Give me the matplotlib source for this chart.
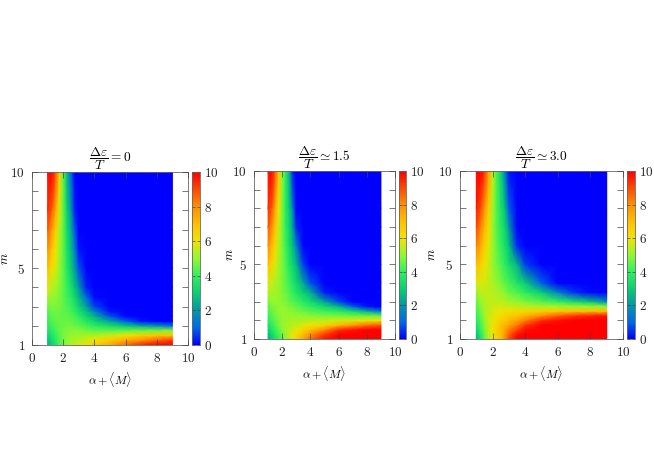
import numpy as np
import matplotlib
matplotlib.use('Agg')
from matplotlib import pyplot as plt
from matplotlib.colors import LinearSegmentedColormap

plt.rcParams['font.family'] = ['cmr10', 'DejaVu Sans']
plt.rcParams['mathtext.fontset'] = 'cm'
plt.rcParams['axes.formatter.use_mathtext'] = True

alpha = [1, 1.25, 1.5, 1.75, 2, 2.25, 2.5, 2.75, 3, 3.5, 4, 5, 6, 7, 8, 9]
m = [1, 1.25, 1.5, 1.75, 2, 2.25, 2.5, 2.75, 3, 3.5, 4, 5, 6, 7, 8, 10]

# values, one row per m
panel_a = [
    [2.5, 3, 3.5, 4.2, 4.7, 5, 5.2, 5.4, 5.6, 6.1, 6.6, 7.5, 8.5, 9.5, 10, 10],
    [2.8, 3.3, 3.8, 4.3, 4.7, 5, 5.2, 5.3, 5.4, 5.7, 6, 6.7, 7.4, 8, 8.6, 9.2],
    [3.2, 3.6, 4, 4.4, 4.7, 4.9, 5, 5.1, 5.1, 5.2, 5.3, 5.6, 6, 6.5, 6.8, 7],
    [3.5, 3.9, 4.2, 4.5, 4.7, 4.8, 4.9, 4.9, 4.9, 4.7, 4.6, 4.5, 4.6, 4.7, 4.8, 5],
    [3.8, 4.1, 4.4, 4.5, 4.6, 4.7, 4.7, 4.6, 4.5, 4.2, 3.9, 3.4, 2.9, 2.4, 2, 1.2],
    [4, 4.3, 4.5, 4.6, 4.6, 4.6, 4.5, 4.4, 4.2, 3.7, 3.2, 2.2, 0.9, 0.2, 0, 0],
    [4.2, 4.5, 4.6, 4.6, 4.5, 4.5, 4.4, 4.2, 3.9, 3.2, 2.5, 0.8, 0.1, 0, 0, 0],
    [4.4, 4.6, 4.7, 4.6, 4.5, 4.4, 4.2, 3.9, 3.5, 2.7, 1.6, 0.2, 0, 0, 0, 0],
    [4.6, 4.8, 4.8, 4.7, 4.5, 4.3, 4.1, 3.7, 3.2, 2.1, 0.7, 0, 0, 0, 0, 0],
    [5.2, 5.1, 5, 4.8, 4.5, 4.1, 3.8, 3.2, 2.6, 1, 0.1, 0, 0, 0, 0, 0],
    [5.8, 5.4, 5.2, 4.9, 4.5, 4, 3.5, 2.8, 2, 0.3, 0, 0, 0, 0, 0, 0],
    [7, 6.2, 5.8, 5, 4.5, 3.7, 3, 2, 0.8, 0, 0, 0, 0, 0, 0, 0],
    [8, 7, 6, 5.2, 4.5, 3.5, 2.7, 1.4, 0.2, 0, 0, 0, 0, 0, 0, 0],
    [8.8, 7.8, 6.6, 5.4, 4.5, 3.3, 2.4, 0.8, 0, 0, 0, 0, 0, 0, 0, 0],
    [9.4, 8.8, 7.5, 5.8, 4.5, 3.1, 2, 0.3, 0, 0, 0, 0, 0, 0, 0, 0],
    [9.8, 10, 9, 6.5, 4.5, 2.5, 1, 0, 0, 0, 0, 0, 0, 0, 0, 0],
]
panel_b = [
    [2.5, 3, 3.5, 4, 4.5, 5, 5.5, 6, 6.5, 7.5, 8.5, 9.7, 10, 10, 10, 10],
    [2.8, 3.2, 3.8, 4.2, 4.7, 5.1, 5.5, 5.9, 6.2, 7.1, 7.9, 9.2, 10, 10, 10, 10],
    [3.1, 3.6, 4, 4.5, 4.9, 5.2, 5.4, 5.7, 5.9, 6.4, 7, 8, 9.3, 9.7, 10, 10],
    [3.5, 3.9, 4.3, 4.7, 5, 5.2, 5.3, 5.4, 5.5, 5.8, 6, 6.4, 7.1, 7.8, 8.4, 8.8],
    [3.8, 4.2, 4.5, 4.8, 5, 5.1, 5.2, 5.3, 5.3, 5.3, 5.4, 5.5, 5.6, 5.8, 5.9, 6],
    [4.1, 4.4, 4.7, 4.9, 5, 5.1, 5.1, 5.1, 5, 5, 4.9, 4.8, 4.7, 4.6, 4.6, 4.5],
    [4.3, 4.6, 4.8, 5, 5, 5, 4.9, 4.9, 4.8, 4.6, 4.4, 4.1, 3.8, 3.3, 2.4, 1.2],
    [4.5, 4.8, 4.9, 5, 5, 4.9, 4.8, 4.7, 4.5, 4.2, 3.9, 3.3, 2.6, 0.9, 0.2, 0],
    [4.8, 5, 5, 5, 4.9, 4.8, 4.6, 4.4, 4.2, 3.8, 3.4, 2.3, 0.7, 0, 0, 0],
    [5.3, 5.3, 5.2, 5.1, 4.8, 4.6, 4.3, 4, 3.7, 3, 2.4, 0.3, 0, 0, 0, 0],
    [5.8, 5.6, 5.3, 5.1, 4.8, 4.5, 4.1, 3.7, 3.3, 2.3, 0.8, 0, 0, 0, 0, 0],
    [7, 6.4, 5.8, 5.2, 4.8, 4.3, 3.7, 3.2, 2.6, 0.6, 0, 0, 0, 0, 0, 0],
    [8, 7.2, 6.3, 5.4, 4.8, 4.1, 3.4, 2.7, 1.5, 0, 0, 0, 0, 0, 0, 0],
    [8.8, 8, 6.8, 5.6, 4.8, 3.9, 3.2, 2.2, 0.4, 0, 0, 0, 0, 0, 0, 0],
    [9.3, 8.8, 7.4, 6, 4.8, 3.8, 3, 1.6, 0, 0, 0, 0, 0, 0, 0, 0],
    [9.8, 10, 8.8, 6.8, 5, 3.8, 2.5, 0.3, 0, 0, 0, 0, 0, 0, 0, 0],
]
panel_c = [
    [2.5, 3.5, 4.5, 5.3, 6, 6.5, 7, 8, 9, 10, 10, 10, 10, 10, 10, 10],
    [2.8, 3.7, 4.6, 5.4, 6, 6.5, 7, 7.8, 8.6, 9.8, 10, 10, 10, 10, 10, 10],
    [3.2, 4, 4.8, 5.5, 6, 6.5, 7, 7.6, 8.2, 9, 9.8, 10, 10, 10, 10, 10],
    [3.5, 4.2, 4.9, 5.5, 6, 6.4, 6.8, 7.2, 7.6, 8.3, 9.2, 10, 10, 10, 10, 10],
    [3.8, 4.4, 5, 5.6, 5.9, 6.2, 6.5, 6.8, 7.1, 7.6, 8.2, 9.4, 9.8, 10, 10, 10],
    [4, 4.6, 5.1, 5.6, 5.8, 6, 6.2, 6.4, 6.6, 6.9, 7.3, 8, 8.7, 9.2, 9.5, 9.7],
    [4.2, 4.7, 5.2, 5.5, 5.7, 5.9, 6, 6.1, 6.1, 6.2, 6.3, 6.5, 6.7, 6.8, 6.9, 7],
    [4.4, 4.9, 5.2, 5.5, 5.6, 5.7, 5.7, 5.6, 5.6, 5.5, 5.4, 5.3, 5.2, 5.1, 5, 4.9],
    [4.6, 5, 5.3, 5.5, 5.5, 5.5, 5.5, 5.4, 5.2, 5, 4.8, 4.4, 4, 3.4, 2.8, 1.8],
    [5.1, 5.4, 5.5, 5.5, 5.4, 5.3, 5.1, 4.9, 4.6, 4.3, 3.9, 3, 1.6, 0.5, 0.1, 0],
    [5.8, 5.8, 5.7, 5.5, 5.3, 5, 4.8, 4.5, 4.2, 3.6, 3, 0.9, 0, 0, 0, 0],
    [7, 6.6, 6.1, 5.6, 5.1, 4.7, 4.3, 3.9, 3.4, 2.5, 0.6, 0, 0, 0, 0, 0],
    [8.2, 7.4, 6.6, 5.8, 5.1, 4.5, 4, 3.5, 2.8, 0.4, 0, 0, 0, 0, 0, 0],
    [9, 8.2, 7.2, 6.2, 5.1, 4.4, 3.8, 3.2, 2, 0, 0, 0, 0, 0, 0, 0],
    [9.6, 9, 7.8, 6.6, 5.2, 4.3, 3.6, 2.8, 0.9, 0, 0, 0, 0, 0, 0, 0],
    [9.9, 10, 9.3, 7.6, 5.6, 4.2, 3.2, 1.6, 0.2, 0, 0, 0, 0, 0, 0, 0],
]
titles = [r'$\dfrac{\Delta\varepsilon}{T} = 0$',
          r'$\dfrac{\Delta\varepsilon}{T} \simeq 1.5$',
          r'$\dfrac{\Delta\varepsilon}{T} \simeq 3.0$']

W, H = 654, 462
# pixel boxes: left, right, top, bottom of plot, then left, right of colour bar
boxes = [(32, 188, 172, 345, 192, 200),
         (254, 395, 171, 339, 399, 406),
         (460, 623, 171, 339, 627, 635)]
ylabel_gap = [21, 18, 22]

cmap = LinearSegmentedColormap.from_list('rb', [
    (0.0, '#0000ff'), (0.1, '#0068e8'), (0.2, '#0098a8'), (0.3, '#08d070'),
    (0.4, '#30f060'), (0.5, '#90f830'), (0.6, '#f0e400'), (0.7, '#ffc000'),
    (0.8, '#ff9000'), (0.9, '#ff4800'), (1.0, '#ff0000')])


def style(ax):
    ax.tick_params(which='both', direction='in', top=True, right=True,
                   color='#444444', width=0.5, labelsize=9.5, pad=5, labelcolor='#222222')
    ax.tick_params(which='major', length=4)
    ax.tick_params(which='minor', length=4)
    for s in ax.spines.values():
        s.set_linewidth(0.6)
        s.set_color('#666666')


fig = plt.figure(figsize=(W / 100, H / 100), dpi=100)
for i, z in enumerate([panel_a, panel_b, panel_c]):
    l, r, t, b, cl, cr = boxes[i]
    ax = fig.add_axes([l / W, 1 - b / H, (r - l) / W, (b - t) / H])
    pc = ax.pcolormesh(alpha, m, np.array(z), cmap=cmap, vmin=0, vmax=10, shading='gouraud')
    ax.set_xlim(0, 10)
    ax.set_ylim(1, 10)
    ax.set_xticks([0, 2, 4, 6, 8, 10])
    ax.set_yticks([1, 5, 10])
    ax.set_yticks([2, 3, 4, 6, 7, 8, 9], minor=True)
    ax.set_xlabel(r'$\alpha + \langle M \rangle$', fontsize=8.5)
    ax.xaxis.set_label_coords(0.5, -25 / (b - t))
    ax.set_ylabel(r'$m$', fontsize=9)
    ax.yaxis.set_label_coords(-ylabel_gap[i] / (r - l), 0.5)
    ax.set_title(titles[i], fontsize=9.6, pad=0)
    style(ax)
    ax.set_axisbelow(False)

    cax = fig.add_axes([cl / W, 1 - b / H, (cr - cl) / W, (b - t) / H])
    cb = fig.colorbar(pc, cax=cax)
    cb.set_ticks([0, 2, 4, 6, 8, 10])
    style(cax)
    cax.tick_params(which='major', length=2, left=True, right=True, top=False,
                    labelleft=False, labelright=True, pad=3)
    cb.outline.set_linewidth(0.6)
    cb.outline.set_edgecolor('#666666')

fig.savefig('out.png', dpi=100)
